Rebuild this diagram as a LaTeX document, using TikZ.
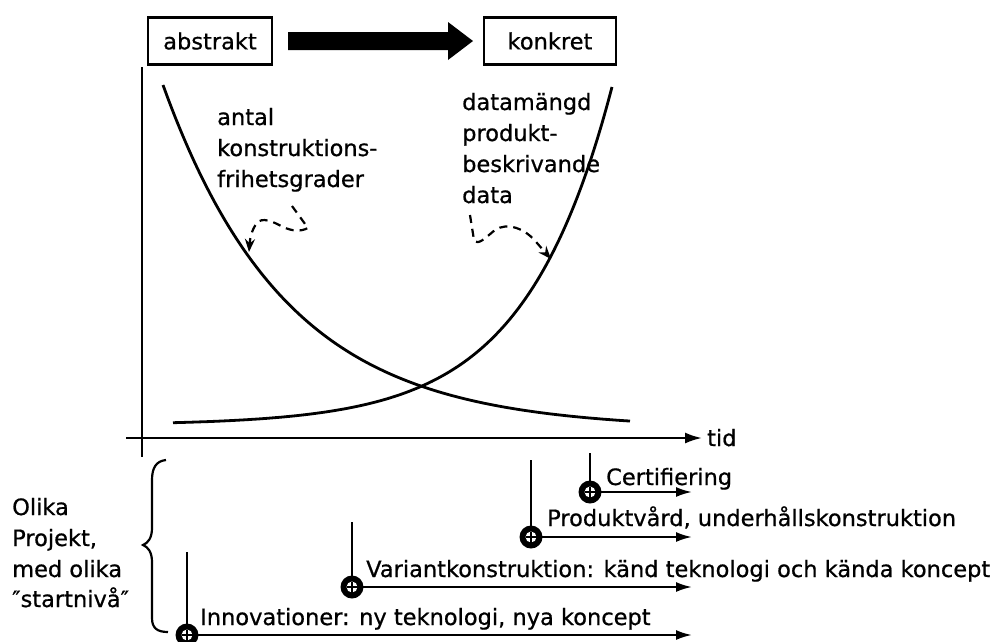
\documentclass[tikz,border=0pt]{standalone}
\usepackage{fontspec}
\setmainfont{DejaVu Sans}[FakeBold=0.7]
\usetikzlibrary{arrows.meta}
\begin{document}
\begin{tikzpicture}[x=1pt,y=-1pt,
  txt/.style={anchor=base west,inner sep=0pt,font=\fontsize{22.5}{31}\selectfont},
  boxnode/.style={draw,line width=2.2pt,minimum height=47pt,inner sep=0pt,font=\fontsize{22.5}{31}\selectfont},
  ln/.style={line width=2.2pt},
  crv/.style={line width=2.8pt},
  proj/.style={line width=2.2pt,-{Latex[length=16pt,width=10pt]}},
  dsh/.style={line width=2.2pt,dash pattern=on 8pt off 6pt,-{Stealth[length=13pt,width=10pt]}},
  btn/.pic={\fill (0,0) circle (11.5pt); \fill[white] (0,0) circle (5.5pt);
            \draw[line width=1.5pt] (-5.5,0) -- (5.5,0) (0,-5.5) -- (0,5.5);}
]
\useasboundingbox (0,0) rectangle (999,641);

% top boxes and big arrow
\node[boxnode,minimum width=124pt] (abs) at (210,41) {abstrakt};
\node[boxnode,minimum width=132pt] (kon) at (550,41) {konkret};
\coordinate (ba) at (288,41);
\fill (ba) ++(0,-9) -- ++(160,0) -- ++(0,-10) -- ++(25,19) -- ++(-25,19) -- ++(0,-10) -- ++(-160,0) -- cycle;

% axes
\coordinate (vt) at (142,67);
\coordinate (vb) at (142,457);
\coordinate (hl) at (126,438);
\coordinate (hr) at (702,438);
\draw[ln] (vt) -- (vb);
\draw[ln,-{Latex[length=17pt,width=11pt]}] (hl) -- (hr);
\node[txt] (tid) at (707,446) {tid};

% curves
\draw[crv] plot[domain=163:630,samples=90,smooth] (\x,{429-344*exp(-(\x-163)/124)});
\draw[crv] plot[domain=173:612,samples=90,smooth] (\x,{425-338*exp((\x-612)/88)});

% labels
\node[txt] (l1) at (217,125) {antal};
\node[txt] (l2) at (217,156) {konstruktions-};
\node[txt] (l3) at (217,187) {frihetsgrader};
\node[txt] (r1) at (462,110) {datamängd};
\node[txt] (r2) at (462,141) {produkt-};
\node[txt] (r3) at (462,172) {beskrivande};
\node[txt] (r4) at (462,203) {data};

% dashed arrows
\coordinate (da1) at (292,206);
\coordinate (da2) at (249,252);
\draw[dsh] (da1) -- (308,228) .. controls (300,232) and (292,231) .. (283,227)
  .. controls (272,221) and (262,217) .. (257,223) .. controls (252,229) and (250,238) .. (da2);
\coordinate (db1) at (470,215);
\coordinate (db2) at (551,259);
\draw[dsh] (db1) -- (474,240) .. controls (478,246) and (485,238) .. (495,230)
  .. controls (507,222) and (525,228) .. (537,243) -- (db2);

% brace and left text
\draw[ln] (166,460) .. controls (156,461) and (152,468) .. (152,480) -- (152,528)
  .. controls (152,538) and (148,543) .. (143,545) .. controls (148,547) and (152,552) .. (152,562)
  -- (152,618) .. controls (152,628) and (157,632) .. (168,632);
\node[txt] (o1) at (12,515) {Olika};
\node[txt] (o2) at (12,546) {Projekt,};
\node[txt] (o3) at (12,577) {med olika};
\node[txt] (o4) at (12,607) {″startnivå″};

% projects
\coordinate (ct) at (590,453); \coordinate (cm) at (590,492); \coordinate (ce) at (692,492);
\coordinate (pt) at (531,460); \coordinate (pm) at (531,537); \coordinate (pe) at (692,537);
\coordinate (vvt) at (352,522); \coordinate (vm) at (352,587); \coordinate (ve) at (692,587);
\coordinate (it) at (187,552); \coordinate (im) at (187,635); \coordinate (ie) at (692,635);
\draw[ln] (ct) -- (cm); \draw[proj] (cm) -- (ce);
\draw[ln] (pt) -- (pm); \draw[proj] (pm) -- (pe);
\draw[ln] (vvt) -- (vm); \draw[proj] (vm) -- (ve);
\draw[ln] (it) -- (im); \draw[proj] (im) -- (ie);
\pic at (cm) {btn}; \pic at (pm) {btn}; \pic at (vm) {btn}; \pic at (im) {btn};
\node[txt] (tc) at (606,485) {Certifiering};
\node[txt] (tp) at (547,526) {Produktvård, underhållskonstruktion};
\node[txt] (tv) at (366,577) {Variantkonstruktion: känd teknologi och kända koncept};
\node[txt] (ti) at (200,625) {Innovationer: ny teknologi, nya koncept};
\end{tikzpicture}
\end{document}
